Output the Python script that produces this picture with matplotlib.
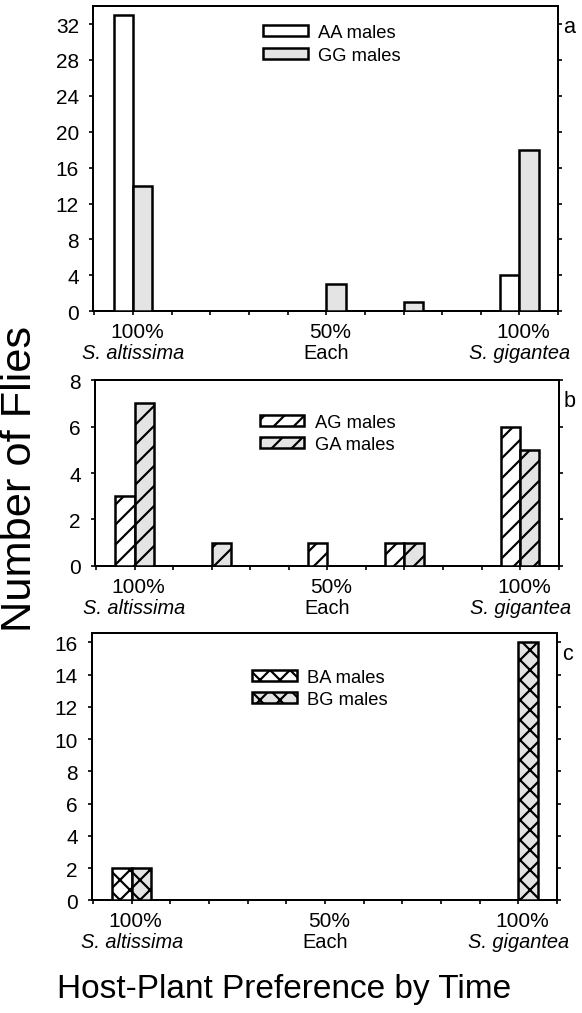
import matplotlib
matplotlib.use("Agg")
import matplotlib.pyplot as plt
import numpy as np
from matplotlib.transforms import blended_transform_factory

plt.rcParams['font.family'] = ['Liberation Sans', 'DejaVu Sans']
plt.rcParams['hatch.linewidth'] = 1.3

# ---- data ----
positions = list(range(11))          # 100% S. altissima ... 50% each ... 100% S. gigantea
tick_top = ["100%", "50%", "100%"]
tick_bottom = ["S. altissima", "Each", "S. gigantea"]
tick_bottom_italic = [True, False, True]
tick_pos = [0, 5, 10]

aa_males = [33, 0, 0, 0, 0, 0, 0, 0, 0, 0, 4]
gg_males = [14, 0, 0, 0, 0, 3, 0, 1, 0, 0, 18]
ag_males = [3, 0, 0, 0, 0, 1, 0, 1, 0, 0, 6]
ga_males = [7, 0, 1, 0, 0, 0, 0, 1, 0, 0, 5]
ba_males = [2, 0, 0, 0, 0, 0, 0, 0, 0, 0, 0]
bg_males = [2, 0, 0, 0, 0, 0, 0, 0, 0, 0, 16]

panels = [
    dict(series=[("AA males", aa_males, "white", None), ("GG males", gg_males, "#e4e4e4", None)],
         ylim=34, yticks=np.arange(0, 33, 4), letter="a",
         box=[0.160, 0.692, 0.799, 0.301], leg=(0.366, 0.94)),
    dict(series=[("AG males", ag_males, "white", "//"), ("GA males", ga_males, "#e4e4e4", "//")],
         ylim=8, yticks=np.arange(0, 9, 2), letter="b",
         box=[0.163, 0.441, 0.797, 0.183], leg=(0.355, 0.82)),
    dict(series=[("BA males", ba_males, "white", "xx"), ("BG males", bg_males, "#e4e4e4", "xx")],
         ylim=16.6, yticks=np.arange(0, 17, 2), letter="c",
         box=[0.158, 0.111, 0.799, 0.264], leg=(0.345, 0.865)),
]

fig = plt.figure(figsize=(582 / 120, 1014 / 120), dpi=120)

for p in panels:
    ax = fig.add_axes(p["box"])
    x = np.array(positions, dtype=float)
    for i, (label, vals, fc, hatch) in enumerate(p["series"]):
        vals = np.array(vals, dtype=float)
        mask = vals > 0
        w = -0.5 if i == 0 else 0.5
        ax.bar(x[mask], vals[mask], width=w, align="edge", facecolor=fc,
               edgecolor="black", linewidth=1.5, hatch=hatch, label=label, zorder=3)
    ax.set_xlim(-1.03, 11.0)
    ax.set_ylim(0, p["ylim"])
    ax.set_yticks(p["yticks"])
    ax.set_yticklabels([str(int(v)) for v in p["yticks"]], fontsize=12.5)
    ax.set_xticks(range(-1, 12))
    ax.set_xticklabels([""] * 13)
    ax.tick_params(axis="y", direction="out", length=2.5, width=1.0, pad=6,
                   right=True, labelright=False)
    ax.tick_params(axis="x", direction="out", length=2.5, width=1.0)
    for s in ax.spines.values():
        s.set_linewidth(1.2)
    trans = blended_transform_factory(ax.transData, ax.transAxes)
    for tp, top, bot, it in zip(tick_pos, tick_top, tick_bottom, tick_bottom_italic):
        ax.text(tp + 0.1, -0.035 * (0.301 / p["box"][3]), top, transform=trans,
                ha="center", va="top", fontsize=12.5)
        ax.text(tp, -0.105 * (0.301 / p["box"][3]), bot, transform=trans,
                ha="center", va="top", fontsize=12, style="italic" if it else "normal")
    ax.legend(loc="upper left", bbox_to_anchor=p["leg"], frameon=False, fontsize=11,
              handlelength=2.45, handleheight=0.55, handletextpad=0.55,
              labelspacing=0.3, borderpad=0, borderaxespad=0)
    b = p["box"]
    fig.text(b[0] + b[2] + 0.008, b[1] + b[3] - 0.02, p["letter"], fontsize=13,
             ha="left", va="center")

fig.text(20 / 582, 1 - 479 / 1014, "Number of Flies", rotation=90, fontsize=26,
         ha="center", va="center")
fig.text(284 / 582, 1 - 990 / 1014, "Host-Plant Preference by Time", fontsize=20,
         ha="center", va="center")

fig.savefig("out.png", dpi=120)
